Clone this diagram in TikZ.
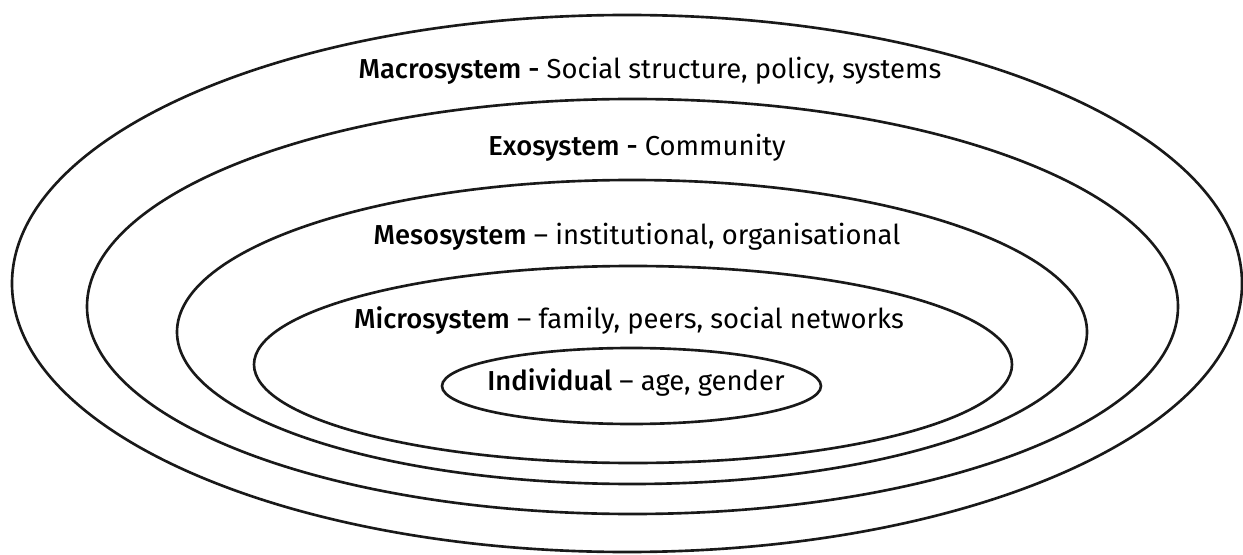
\documentclass[tikz,border=0pt]{standalone}
\usepackage{fontspec}
\setmainfont{Fira Sans}[BoldFont=* Medium]
\usepackage{tikz}

\begin{document}
\begin{tikzpicture}[
    every node/.style={font=\fontsize{15.6}{19}\selectfont, inner sep=0pt},
    ring/.style={draw=black!90, line width=1.5pt},
  ]
  \useasboundingbox (0,0) rectangle (24.86,11.08);

  \draw[ring] (12.54,5.41) ellipse [x radius=12.30, y radius=5.37];
  \draw[ring] (12.65,4.95) ellipse [x radius=10.91, y radius=4.15];
  \draw[ring] (12.64,4.44) ellipse [x radius=9.10,  y radius=3.04];
  \draw[ring] (12.66,3.79) ellipse [x radius=7.58,  y radius=1.97];
  \draw[ring] (12.63,3.36) ellipse [x radius=3.79,  y radius=0.76];

  \node (macro) at (13.00,9.66) {\textbf{Macrosystem -} Social structure, policy, systems};
  \node (exo)   at (12.74,8.12) {\textbf{Exosystem -} Community};
  \node (meso)  at (12.74,6.34) {\textbf{Mesosystem} -- institutional, organisational};
  \node (micro) at (12.58,4.66) {\textbf{Microsystem} -- family, peers, social networks};
  \node (indiv) at (12.72,3.44) {\textbf{Individual} -- age, gender};

\end{tikzpicture}
\end{document}
